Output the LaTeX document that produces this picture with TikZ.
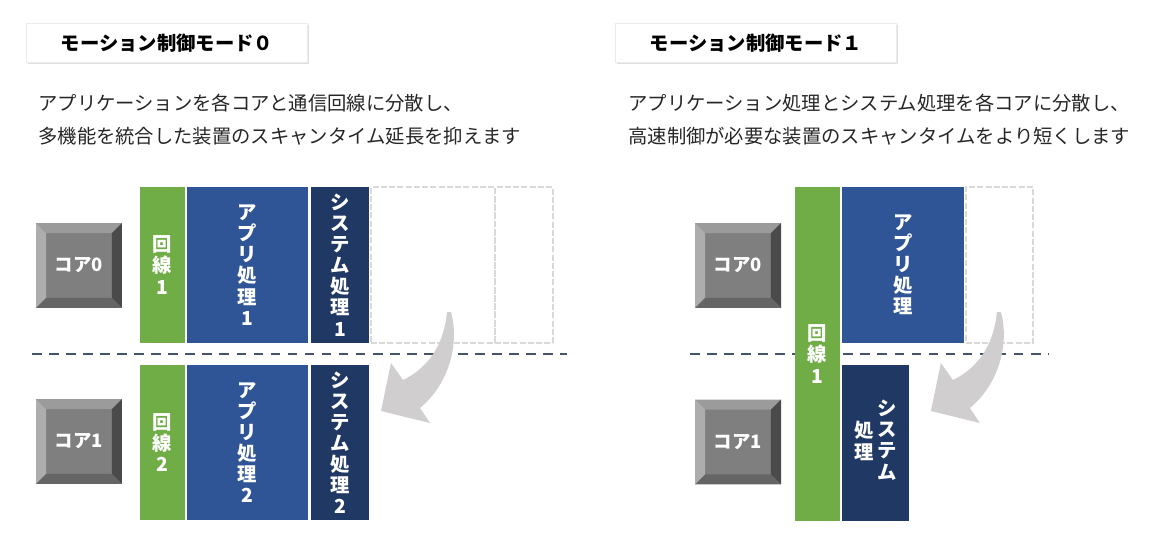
\documentclass[tikz,border=0pt]{standalone}
\usepackage{fontspec}
\setmainfont{Noto Sans CJK JP}
\usetikzlibrary{positioning, shadows}

\definecolor{linegreen}{HTML}{70AD47}
\definecolor{appblue}{HTML}{2F5597}
\definecolor{sysnavy}{HTML}{203864}
\definecolor{sepblue}{HTML}{44546A}
\definecolor{ghost}{HTML}{D9D9D9}
\definecolor{turngray}{HTML}{D0CECE}
\definecolor{txtgray}{HTML}{262626}
\definecolor{coreface}{HTML}{7F7F7F}
\definecolor{coretop}{HTML}{9B9B9B}
\definecolor{coreleft}{HTML}{ADADAD}
\definecolor{coreright}{HTML}{4A4A4A}
\definecolor{corebottom}{HTML}{656565}

\begin{document}
\begin{tikzpicture}[
    x=0.02cm, y=-0.02cm, node distance=0.04cm,
    title/.style={fill=white, draw=black!8, minimum width=5.62cm, minimum height=0.78cm,
                  drop shadow={shadow xshift=1pt, shadow yshift=-1pt, opacity=0.25},
                  font=\bfseries\fontsize{11}{13}\selectfont},
    desc/.style={anchor=west, align=left, inner sep=0pt, text=txtgray,
                 font=\fontsize{11}{19}\selectfont},
    core/.style={minimum width=1.72cm, minimum height=1.7cm, inner sep=0pt,
                 fill=coreface, text=white, font=\bfseries\fontsize{10.5}{12}\selectfont,
                 path picture={
                   \coordinate (p-nw) at (path picture bounding box.north west);
                   \coordinate (p-ne) at (path picture bounding box.north east);
                   \coordinate (p-se) at (path picture bounding box.south east);
                   \coordinate (p-sw) at (path picture bounding box.south west);
                   \coordinate (i-nw) at ([shift={(5.7pt,-5.7pt)}]p-nw);
                   \coordinate (i-ne) at ([shift={(-5.7pt,-5.7pt)}]p-ne);
                   \coordinate (i-se) at ([shift={(-5.7pt,5.7pt)}]p-se);
                   \coordinate (i-sw) at ([shift={(5.7pt,5.7pt)}]p-sw);
                   \fill[coretop] (p-nw) -- (p-ne) -- (i-ne) -- (i-nw) -- cycle;
                   \fill[coreleft] (p-nw) -- (p-sw) -- (i-sw) -- (i-nw) -- cycle;
                   \fill[coreright] (p-ne) -- (p-se) -- (i-se) -- (i-ne) -- cycle;
                   \fill[corebottom] (p-sw) -- (p-se) -- (i-se) -- (i-sw) -- cycle;
                 }},
    blk/.style={inner sep=0pt, outer sep=0pt, minimum height=3.12cm, align=center,
                text=white, font=\bfseries\fontsize{11}{12}\selectfont},
    linebox/.style={blk, fill=linegreen, minimum width=0.9cm},
    appbox/.style={blk, fill=appblue, minimum width=2.42cm},
    sysbox/.style={blk, fill=sysnavy, minimum width=1.16cm},
    ghostbox/.style={draw=ghost, line width=1.1pt, dash pattern=on 3.4pt off 1.3pt,
                     inner sep=0pt, outer sep=0pt, minimum height=3.12cm},
    sep/.style={draw=sepblue, line width=1.2pt, dash pattern=on 5.5pt off 4.2pt},
    turn/.style={fill=turngray}
  ]
  \useasboundingbox (0,0) rectangle (1173,544);

  \draw[sep] (32,354) -- (567,354);
  \draw[sep] (690,354) -- (1048,354);

  % mode 0
  \node[title] (t0) at (167,43) {モーション制御モード０};
  \node[desc] (d0) at (38,119.5) {アプリケーションを各コアと通信回線に分散し、\\多機能を統合した装置のスキャンタイム延長を抑えます};

  \node[core] (c0) at (79,265.5) {コア0};
  \node[core] (c1) at (79,441.5) {コア1};

  \node[linebox] (ln1) at (162.5,265) {回\\線\\1};
  \node[appbox, right=of ln1] (ap1) {ア\\プ\\リ\\処\\理\\1};
  \node[sysbox, right=0.06cm of ap1] (sy1) {シ\\ス\\テ\\ム\\処\\理\\1};
  \node[ghostbox, minimum width=2.48cm, right=of sy1] (gh1) {};
  \node[ghostbox, minimum width=1.16cm, right=0pt of gh1] (gh2) {};

  \node[linebox] (ln2) at (162.5,442.5) {回\\線\\2};
  \node[appbox, right=of ln2] (ap2) {ア\\プ\\リ\\処\\理\\2};
  \node[sysbox, right=0.06cm of ap2] (sy2) {シ\\ス\\テ\\ム\\処\\理\\2};

  \fill[turn] (447,312) .. controls (444,345) and (428,368) .. (403,380)
    -- (391,363) -- (381,411) -- (430,423) -- (420,408)
    .. controls (448,385) and (460,345) .. (451,312) -- cycle;

  % mode 1
  \node[title] (t1) at (756,43) {モーション制御モード１};
  \node[desc] (d1) at (628,119.5) {アプリケーション処理とシステム処理を各コアに分散し、\\高速制御が必要な装置のスキャンタイムをより短くします};

  \node[core] (c2) at (738,265.5) {コア0};
  \node[core] (c3) at (738,442) {コア1};

  \node[linebox, minimum height=6.68cm] (ln3) at (817.5,354) {回\\線\\1};
  \node[appbox, minimum width=2.44cm, anchor=north west] (ap3)
    at ([xshift=0.04cm]ln3.north east) {ア\\プ\\リ\\処\\理};
  \node[ghostbox, minimum width=1.34cm, right=of ap3] (gh3) {};
  \node[sysbox, minimum width=1.34cm, anchor=south west] (sy3)
    at ([xshift=0.04cm]ln3.south east)
    {\begin{tabular}[c]{@{}c@{}}処\\理\end{tabular}\hspace{2pt}%
     \begin{tabular}[c]{@{}c@{}}シ\\ス\\テ\\ム\end{tabular}};

  \begin{scope}[xshift=11cm]
    \fill[turn] (447,312) .. controls (444,345) and (428,368) .. (403,380)
      -- (391,363) -- (381,411) -- (430,423) -- (420,408)
      .. controls (448,385) and (460,345) .. (451,312) -- cycle;
  \end{scope}
\end{tikzpicture}
\end{document}
